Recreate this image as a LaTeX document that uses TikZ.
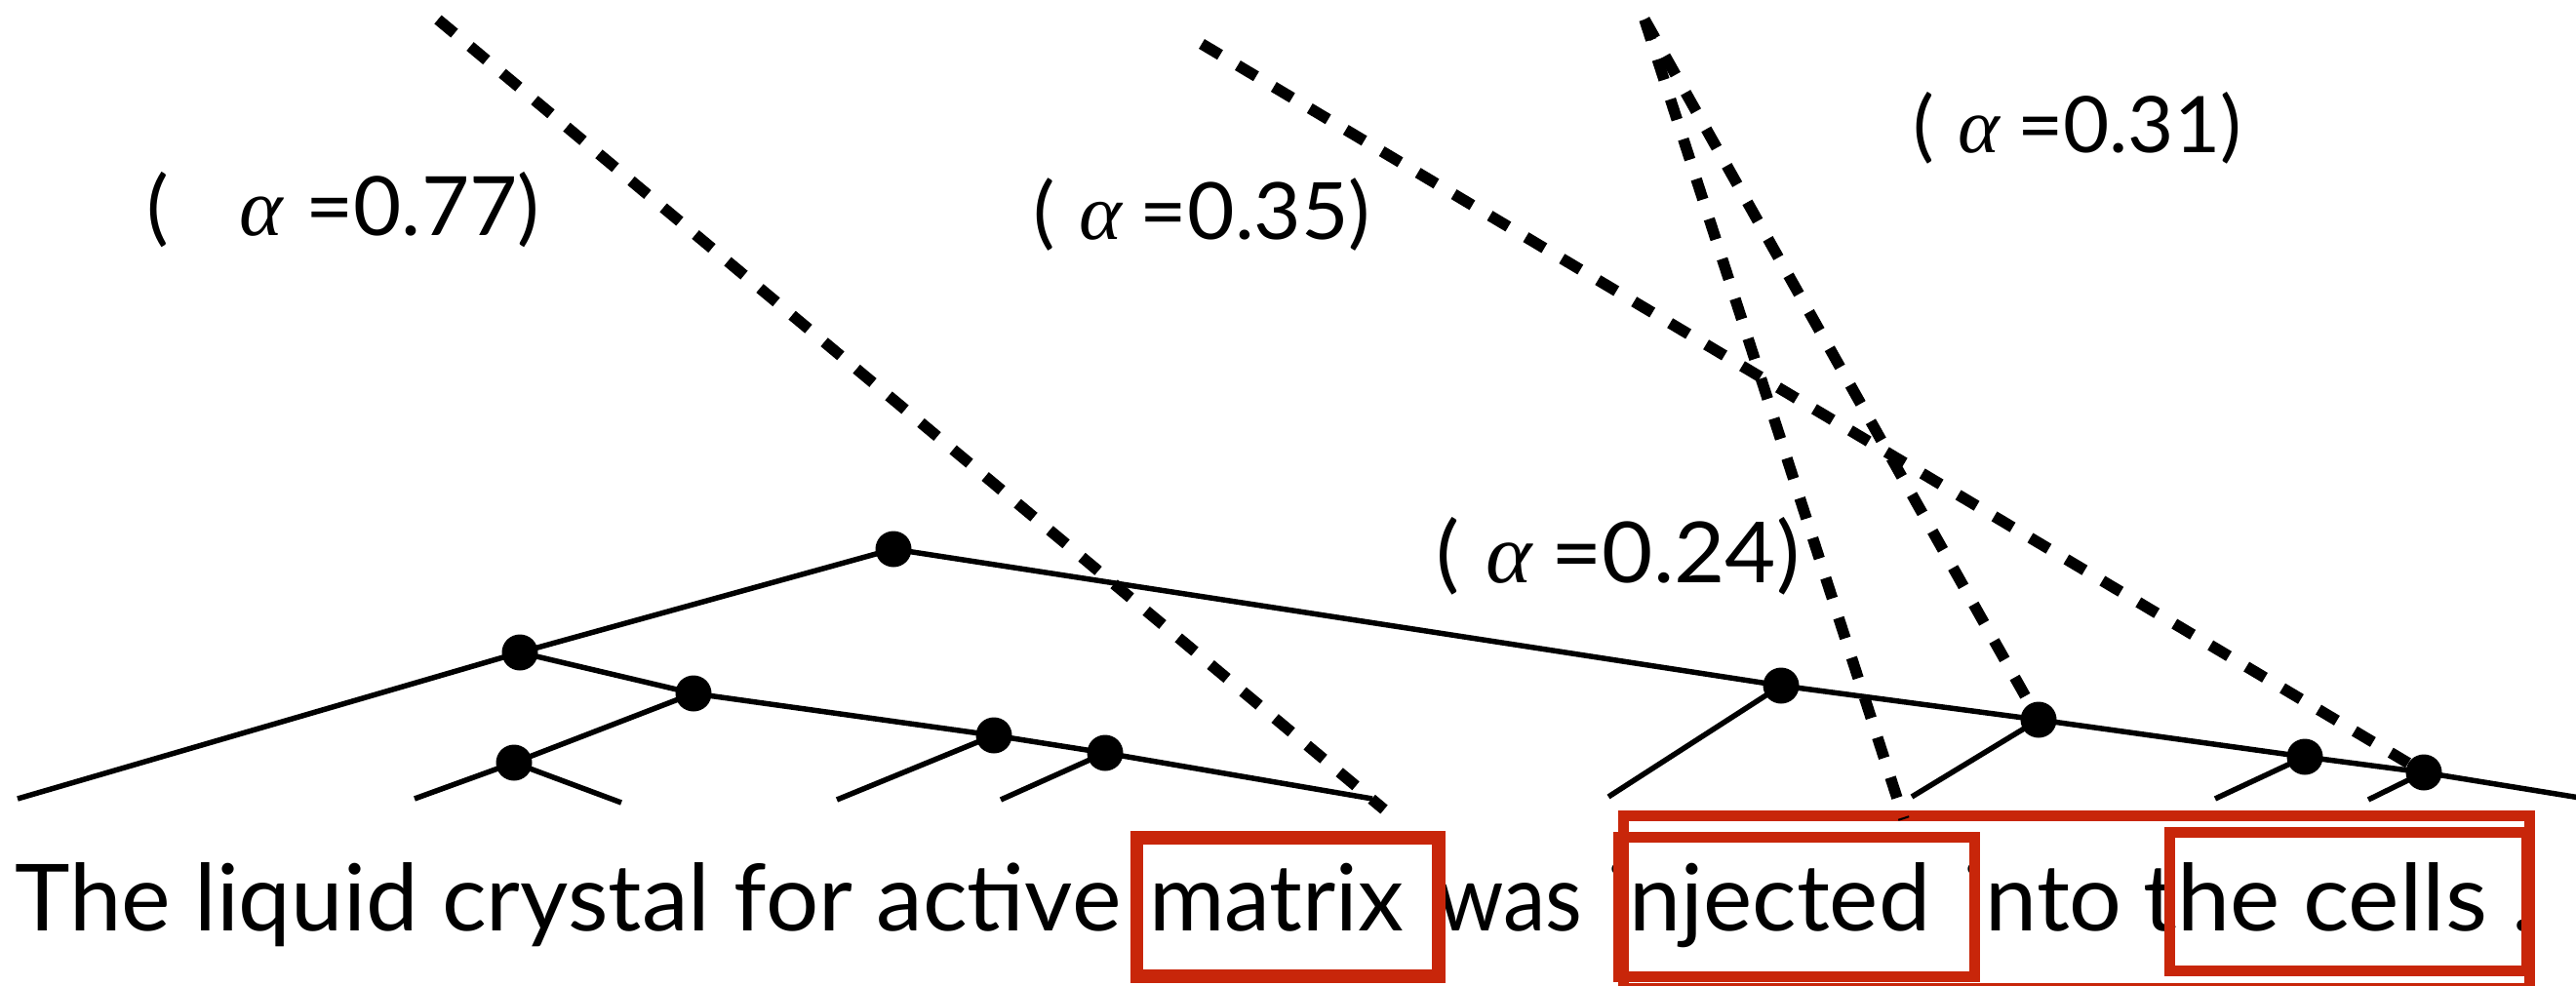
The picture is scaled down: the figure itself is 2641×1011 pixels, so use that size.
\documentclass[tikz,border=0pt]{standalone}
\usepackage{graphicx}
\usepackage{fontspec}
\setmainfont{Lato}
\newfontfamily\alphafont{Liberation Serif}
\definecolor{boxred}{RGB}{200,38,10}
\newlength\iglyphwd
\begin{document}
\settowidth{\iglyphwd}{\fontsize{95}{100}\selectfont i}%
\begin{tikzpicture}[x=1pt,y=-1pt,
  treeline/.style={line width=5.5pt},
  dot/.style={circle,fill=black,inner sep=0pt,minimum size=37pt},
  attn/.style={line width=11.5pt,dash pattern=on 22pt off 21pt},
  redbox/.style={draw=boxred,line width=#1},
  word/.style={inner sep=0pt,anchor=base west,font=\fontsize{95}{100}\selectfont},
  alabel/.style={inner sep=0pt,anchor=base west}]
\path[use as bounding box] (0,0) rectangle (2641,1011);

% sentence
\node[word] (w1) at (15,954) {\resizebox{1134pt}{\height}{The liquid crystal for active}};
\node[word] (w2) at (1178,954) {\resizebox{261pt}{\height}{matrix}};
\node[word] (w3) at (1473,954) {\resizebox{149pt}{\height}{was}};
\node[word] (w4) at ([xshift=-0.5\iglyphwd]1659,954) {injected};
\node[word] (w5) at ([xshift=-0.5\iglyphwd]2024,954) {into};
\node[word] (w6) at (2197,954) {\resizebox{140pt}{\height}{the}};
\node[word] (w7) at (2361,954) {\resizebox{189pt}{\height}{cells}};
\node[word] (w8) at (2575,954) {.};

% red highlight boxes
\draw[redbox=11pt] (1664,836.5) rectangle (2593,1013);
\draw[redbox=13.5pt] (1165.5,859) rectangle (1475,1001);
\draw[redbox=11pt] (1659.5,858.5) rectangle (2024.5,1001.5);
\draw[redbox=11pt] (2224,853.5) rectangle (2590,995.5);

% tree nodes
\node[dot] (R) at (916,563) {};
\node[dot] (A) at (533,669) {};
\node[dot] (B) at (711,711) {};
\node[dot] (C) at (527,782) {};
\node[dot] (D) at (1019,754) {};
\node[dot] (E) at (1133,772) {};
\node[dot] (F) at (1826,703) {};
\node[dot] (G) at (2090,738) {};
\node[dot] (H) at (2363,776) {};
\node[dot] (I) at (2485,792) {};

\coordinate (lA) at (18,819);
\coordinate (lC1) at (425,819);
\coordinate (lC2) at (637,823);
\coordinate (lD) at (858,820);
\coordinate (lE) at (1026,820);
\coordinate (eE) at (1407,819);
\coordinate (lF) at (1649,817);
\coordinate (lG) at (1960,817);
\coordinate (lH) at (2271,819);
\coordinate (lI) at (2428,820);
\coordinate (eR) at (2645,818);

\draw[treeline] (lA) -- (A.center) -- (R.center) -- (F.center) -- (G.center) -- (H.center) -- (I.center) -- (eR);
\draw[treeline] (A.center) -- (B.center) -- (D.center) -- (E.center) -- (eE);
\draw[treeline] (B.center) -- (C.center);
\draw[treeline] (lC1) -- (C.center) -- (lC2);
\draw[treeline] (D.center) -- (lD);
\draw[treeline] (E.center) -- (lE);
\draw[treeline] (F.center) -- (lF);
\draw[treeline] (G.center) -- (lG);
\draw[treeline] (H.center) -- (lH);
\draw[treeline] (I.center) -- (lI);

% attention lines
\coordinate (s1) at (449,20);
\coordinate (e1) at (1419,830);
\coordinate (s2) at (1232,45);
\coordinate (s3) at (1686,20);
\coordinate (e3) at (1952,840);
\draw[attn] (s1) -- (e1);
\draw[attn] (s2) -- (I);
\draw[attn] (s3) -- (e3);
\draw[attn] (s3) -- (G);

% labels
\node[alabel] (a77) at (150,242) {\resizebox{403pt}{\height}{\fontsize{84}{90}\selectfont(\kern0.85em{\alphafont\itshape α}\kern0.28em=0.77)}};
\node[alabel] (a35) at (1059,245) {\resizebox{346pt}{\height}{\fontsize{81}{90}\selectfont(\kern0.3em{\alphafont\itshape α}\kern0.22em=0.35)}};
\node[alabel] (a31) at (1961,157) {\resizebox{337pt}{\height}{\fontsize{80}{90}\selectfont(\kern0.3em{\alphafont\itshape α}\kern0.22em=0.31)}};
\node[alabel] (a24) at (1472,597) {\resizebox{373pt}{\height}{\fontsize{86.5}{90}\selectfont(\kern0.3em{\alphafont\itshape α}\kern0.22em=0.24)}};
\end{tikzpicture}
\end{document}
